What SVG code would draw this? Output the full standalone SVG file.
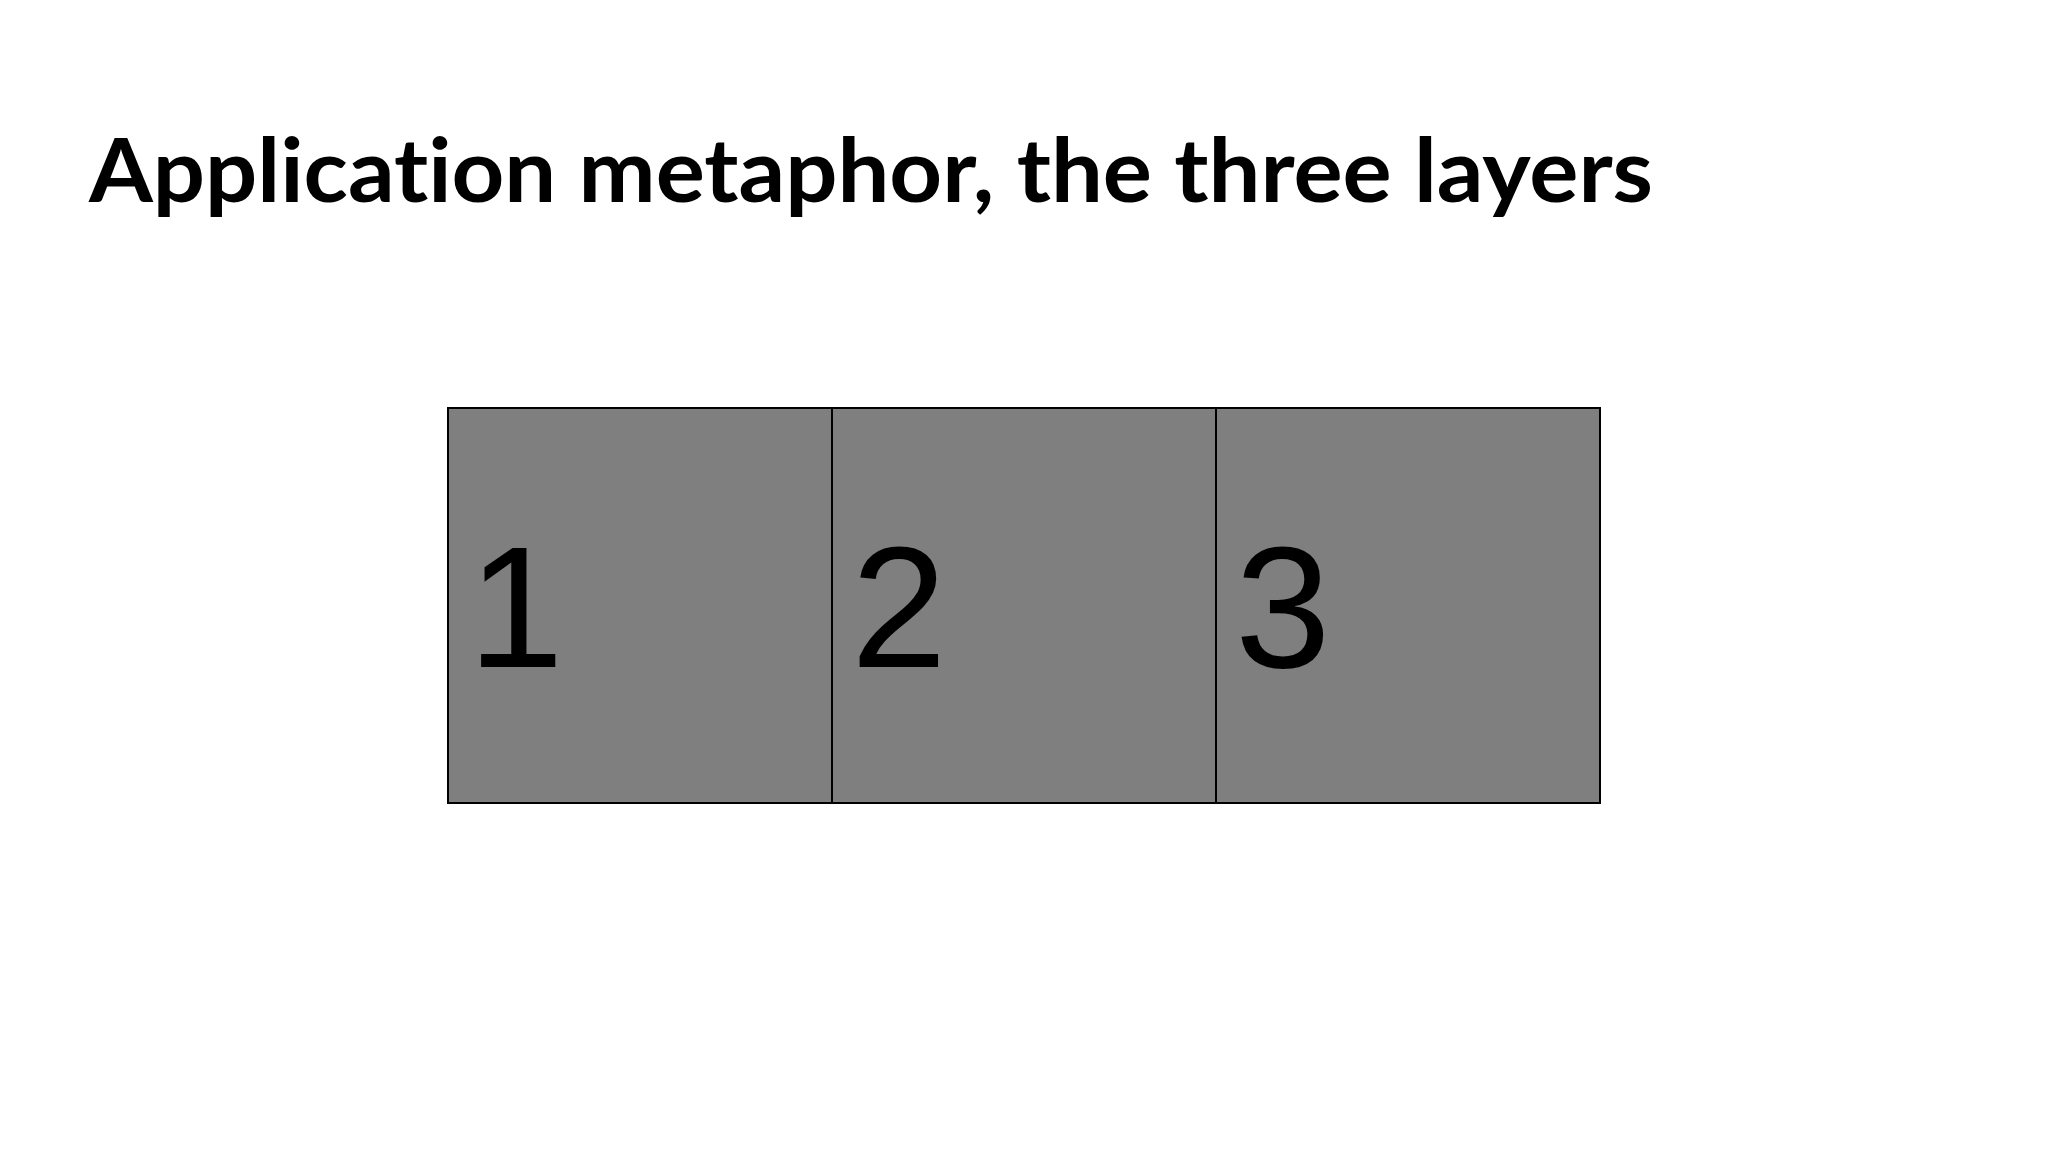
<svg xmlns="http://www.w3.org/2000/svg" width="2048" height="1152" viewBox="0 0 2048 1152">
<style>
.title{font-family:Lato,"Open Sans","Liberation Sans",sans-serif;font-weight:bold;font-size:88px;fill:#000;font-variant-ligatures:none;font-feature-settings:"liga" 0}
.box{fill:#7f7f7f;stroke:#000;stroke-width:2}
.num{font-family:"Liberation Sans",Arial,sans-serif;font-size:172px;fill:#000}
</style>
<rect width="2048" height="1152" fill="#fff"/>
<text class="title" x="89" y="202" textLength="1564" lengthAdjust="spacingAndGlyphs">Application metaphor, the three layers</text>
<g id="layer1">
<rect class="box" x="448" y="408" width="384" height="395"/>
<text class="num" x="468" y="667">1</text>
</g>
<g id="layer2">
<rect class="box" x="832" y="408" width="384" height="395"/>
<text class="num" x="851" y="667">2</text>
</g>
<g id="layer3">
<rect class="box" x="1216" y="408" width="384" height="395"/>
<text class="num" x="1235" y="667">3</text>
</g>
<g id="connectors"></g>
</svg>
